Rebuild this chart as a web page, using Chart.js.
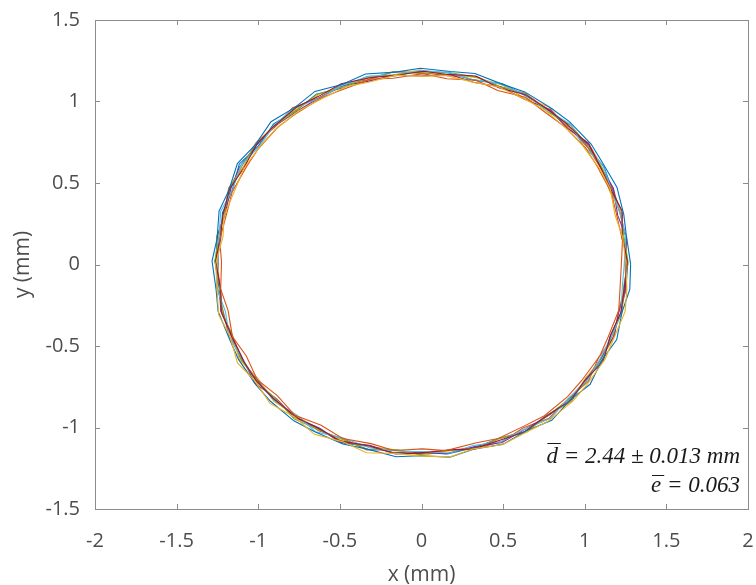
<!DOCTYPE html>
<html>
<head>
<meta charset="utf-8">
<script src="https://cdn.jsdelivr.net/npm/chart.js@4.4.0/dist/chart.umd.min.js"></script>
<style>
  html, body { margin: 0; padding: 0; background: #fff; }
  #wrap { width: 756px; height: 585px; }
</style>
</head>
<body>
<div id="wrap"><canvas id="ring" width="756" height="585"></canvas></div>
<script>
// Traced outline of the ring, one run per array pair (mm), sampled every 7.5 degrees
const xRun1 = [1.263, 1.232, 1.231, 1.163, 1.118, 1.001, 0.906, 0.761, 0.644, 0.496, 0.320, 0.167, -0.008, -0.154, -0.341, -0.478, -0.644, -0.762, -0.906, -1.000, -1.116, -1.161, -1.219, -1.230, -1.265, -1.239, -1.229, -1.159, -1.107, -0.995, -0.913, -0.773, -0.623, -0.492, -0.320, -0.178, 0.010, 0.160, 0.339, 0.475, 0.640, 0.763, 0.917, 1.005, 1.108, 1.157, 1.219, 1.253];
const yRun1 = [0.004, 0.174, 0.305, 0.475, 0.598, 0.745, 0.836, 0.959, 1.032, 1.108, 1.131, 1.175, 1.188, 1.159, 1.150, 1.084, 1.044, 0.950, 0.863, 0.726, 0.617, 0.451, 0.318, 0.155, 0.023, -0.148, -0.284, -0.453, -0.579, -0.722, -0.817, -0.938, -1.004, -1.093, -1.117, -1.153, -1.151, -1.163, -1.119, -1.066, -1.023, -0.928, -0.841, -0.699, -0.588, -0.439, -0.305, -0.135];

const xRun2 = [1.246, 1.257, 1.212, 1.178, 1.086, 1.017, 0.891, 0.790, 0.633, 0.476, 0.338, 0.159, 0.014, -0.171, -0.323, -0.496, -0.626, -0.790, -0.896, -1.014, -1.089, -1.181, -1.208, -1.250, -1.243, -1.253, -1.212, -1.182, -1.090, -1.013, -0.895, -0.788, -0.630, -0.473, -0.336, -0.150, -0.006, 0.173, 0.323, 0.497, 0.624, 0.782, 0.898, 1.023, 1.085, 1.173, 1.208, 1.254];
const yRun2 = [0.017, 0.153, 0.327, 0.455, 0.611, 0.719, 0.855, 0.941, 1.050, 1.093, 1.152, 1.158, 1.176, 1.183, 1.135, 1.101, 1.023, 0.962, 0.845, 0.747, 0.599, 0.469, 0.303, 0.175, 0.003, -0.132, -0.298, -0.432, -0.595, -0.707, -0.841, -0.917, -1.020, -1.070, -1.138, -1.138, -1.163, -1.140, -1.133, -1.084, -1.002, -0.943, -0.824, -0.715, -0.570, -0.451, -0.289, -0.156];

const xRun3 = [1.259, 1.237, 1.227, 1.153, 1.102, 1.024, 0.893, 0.781, 0.623, 0.500, 0.323, 0.172, -0.010, -0.159, -0.314, -0.490, -0.620, -0.786, -0.899, -1.019, -1.091, -1.170, -1.202, -1.256, -1.249, -1.234, -1.224, -1.165, -1.115, -1.000, -0.906, -0.766, -0.647, -0.477, -0.313, -0.169, 0.002, 0.154, 0.341, 0.477, 0.646, 0.772, 0.910, 0.998, 1.104, 1.180, 1.207, 1.242];
const yRun3 = [0.022, 0.160, 0.322, 0.448, 0.607, 0.743, 0.844, 0.966, 1.026, 1.100, 1.150, 1.159, 1.195, 1.166, 1.153, 1.090, 1.048, 0.940, 0.854, 0.740, 0.593, 0.473, 0.309, 0.173, -0.004, -0.139, -0.302, -0.428, -0.584, -0.702, -0.838, -0.929, -1.003, -1.087, -1.118, -1.136, -1.171, -1.145, -1.127, -1.068, -1.027, -0.924, -0.846, -0.707, -0.573, -0.445, -0.281, -0.150];

const xRun4 = [1.250, 1.254, 1.202, 1.175, 1.097, 1.023, 0.894, 0.790, 0.624, 0.488, 0.317, 0.177, -0.006, -0.162, -0.338, -0.475, -0.639, -0.761, -0.912, -1.005, -1.115, -1.165, -1.205, -1.251, -1.259, -1.231, -1.226, -1.162, -1.098, -1.023, -0.887, -0.783, -0.630, -0.495, -0.317, -0.167, 0.012, 0.150, 0.333, 0.494, 0.630, 0.788, 0.893, 1.014, 1.094, 1.182, 1.204, 1.252];
const yRun4 = [0.000, 0.168, 0.301, 0.469, 0.600, 0.744, 0.836, 0.949, 1.017, 1.089, 1.118, 1.165, 1.156, 1.162, 1.122, 1.099, 1.015, 0.942, 0.840, 0.739, 0.598, 0.476, 0.305, 0.175, 0.013, -0.151, -0.280, -0.446, -0.572, -0.726, -0.825, -0.935, -1.006, -1.090, -1.109, -1.157, -1.156, -1.161, -1.116, -1.092, -1.013, -0.920, -0.837, -0.703, -0.585, -0.434, -0.309, -0.132];

const xRun5 = [1.266, 1.240, 1.223, 1.155, 1.109, 1.009, 0.916, 0.765, 0.640, 0.477, 0.341, 0.152, 0.003, -0.156, -0.337, -0.470, -0.640, -0.774, -0.890, -1.020, -1.094, -1.182, -1.206, -1.247, -1.266, -1.237, -1.218, -1.156, -1.109, -1.007, -0.889, -0.781, -0.645, -0.476, -0.329, -0.153, -0.013, 0.169, 0.335, 0.472, 0.637, 0.767, 0.916, 1.007, 1.110, 1.161, 1.229, 1.239];
const yRun5 = [0.013, 0.172, 0.302, 0.467, 0.587, 0.741, 0.853, 0.942, 1.048, 1.091, 1.148, 1.181, 1.171, 1.184, 1.141, 1.092, 1.045, 0.939, 0.858, 0.732, 0.614, 0.456, 0.323, 0.149, 0.016, -0.128, -0.304, -0.438, -0.574, -0.724, -0.826, -0.946, -1.008, -1.076, -1.133, -1.137, -1.166, -1.139, -1.128, -1.069, -1.028, -0.931, -0.819, -0.721, -0.577, -0.452, -0.290, -0.129];

const xRun6 = [1.242, 1.250, 1.218, 1.159, 1.112, 0.996, 0.910, 0.771, 0.646, 0.478, 0.313, 0.173, 0.005, -0.176, -0.319, -0.486, -0.622, -0.783, -0.898, -0.996, -1.106, -1.158, -1.230, -1.241, -1.246, -1.256, -1.202, -1.174, -1.097, -1.021, -0.904, -0.763, -0.650, -0.478, -0.315, -0.172, 0.004, 0.177, 0.315, 0.486, 0.628, 0.790, 0.897, 1.020, 1.088, 1.169, 1.223, 1.230];
const yRun6 = [0.002, 0.177, 0.311, 0.471, 0.609, 0.721, 0.862, 0.947, 1.037, 1.111, 1.135, 1.176, 1.190, 1.163, 1.156, 1.099, 1.021, 0.957, 0.860, 0.721, 0.610, 0.455, 0.327, 0.159, -0.002, -0.141, -0.285, -0.455, -0.577, -0.701, -0.834, -0.924, -1.026, -1.065, -1.126, -1.143, -1.149, -1.156, -1.110, -1.087, -1.011, -0.945, -0.825, -0.703, -0.590, -0.429, -0.297, -0.138];

const xRun7 = [1.261, 1.234, 1.229, 1.166, 1.092, 1.026, 0.889, 0.784, 0.638, 0.473, 0.333, 0.149, 0.012, -0.168, -0.316, -0.492, -0.633, -0.764, -0.916, -1.006, -1.087, -1.175, -1.217, -1.232, -1.261, -1.230, -1.227, -1.164, -1.088, -1.014, -0.911, -0.760, -0.637, -0.497, -0.318, -0.159, -0.012, 0.174, 0.319, 0.498, 0.626, 0.778, 0.913, 1.006, 1.113, 1.158, 1.222, 1.241];
const yRun7 = [0.020, 0.157, 0.329, 0.450, 0.606, 0.731, 0.864, 0.943, 1.042, 1.084, 1.156, 1.167, 1.186, 1.160, 1.146, 1.109, 1.030, 0.966, 0.838, 0.742, 0.595, 0.464, 0.302, 0.169, 0.019, -0.156, -0.290, -0.434, -0.597, -0.711, -0.819, -0.941, -1.001, -1.082, -1.114, -1.162, -1.157, -1.137, -1.131, -1.072, -1.029, -0.921, -0.834, -0.704, -0.594, -0.434, -0.293, -0.153];

const xRun8 = [1.281, 1.255, 1.239, 1.197, 1.110, 1.039, 0.906, 0.795, 0.633, 0.498, 0.327, 0.178, -0.007, -0.158, -0.343, -0.487, -0.653, -0.775, -0.922, -1.017, -1.128, -1.179, -1.240, -1.252, -1.283, -1.258, -1.246, -1.177, -1.121, -1.015, -0.925, -0.782, -0.657, -0.482, -0.337, -0.156, -0.010, 0.174, 0.319, 0.501, 0.640, 0.798, 0.908, 1.033, 1.105, 1.196, 1.229, 1.276];
const yRun8 = [0.002, 0.176, 0.307, 0.474, 0.623, 0.739, 0.877, 0.959, 1.059, 1.105, 1.172, 1.184, 1.204, 1.180, 1.169, 1.104, 1.062, 0.964, 0.876, 0.736, 0.619, 0.457, 0.328, 0.160, 0.021, -0.156, -0.287, -0.456, -0.582, -0.737, -0.839, -0.959, -1.024, -1.101, -1.131, -1.179, -1.173, -1.182, -1.133, -1.102, -1.021, -0.956, -0.833, -0.735, -0.587, -0.460, -0.290, -0.153];

const xRun9 = [1.225, 1.231, 1.193, 1.162, 1.075, 1.005, 0.876, 0.769, 0.636, 0.467, 0.333, 0.155, 0.009, -0.173, -0.313, -0.486, -0.613, -0.770, -0.877, -1.000, -1.071, -1.159, -1.191, -1.236, -1.225, -1.230, -1.185, -1.158, -1.074, -1.006, -0.882, -0.775, -0.615, -0.483, -0.309, -0.170, 0.006, 0.150, 0.330, 0.470, 0.637, 0.753, 0.895, 0.983, 1.093, 1.144, 1.208, 1.216];
const yRun9 = [0.019, 0.148, 0.315, 0.444, 0.604, 0.716, 0.847, 0.925, 1.026, 1.068, 1.131, 1.140, 1.171, 1.143, 1.137, 1.072, 1.023, 0.924, 0.846, 0.710, 0.602, 0.447, 0.321, 0.151, 0.016, -0.152, -0.281, -0.443, -0.560, -0.707, -0.806, -0.925, -0.986, -1.068, -1.099, -1.141, -1.131, -1.142, -1.095, -1.067, -0.987, -0.928, -0.811, -0.710, -0.560, -0.443, -0.282, -0.151];

const xRun10 = [1.251, 1.232, 1.186, 1.156, 1.095, 0.987, 0.898, 0.757, 0.637, 0.466, 0.328, 0.149, 0.011, -0.155, -0.331, -0.464, -0.631, -0.752, -0.897, -0.983, -1.090, -1.140, -1.209, -1.216, -1.261, -1.253, -1.243, -1.174, -1.127, -1.021, -0.928, -0.778, -0.656, -0.480, -0.338, -0.157, -0.012, 0.175, 0.320, 0.498, 0.657, 0.778, 0.927, 1.015, 1.125, 1.176, 1.247, 1.258];
const yRun10 = [0.015, 0.170, 0.302, 0.465, 0.582, 0.729, 0.825, 0.947, 1.012, 1.092, 1.116, 1.160, 1.154, 1.162, 1.117, 1.091, 1.006, 0.943, 0.827, 0.733, 0.586, 0.464, 0.299, 0.172, 0.002, -0.134, -0.308, -0.439, -0.604, -0.714, -0.852, -0.936, -1.042, -1.088, -1.155, -1.159, -1.174, -1.180, -1.131, -1.104, -1.022, -0.960, -0.838, -0.736, -0.580, -0.457, -0.289, -0.158];

const runsX = [xRun1, xRun2, xRun3, xRun4, xRun5, xRun6, xRun7, xRun8, xRun9, xRun10];
const runsY = [yRun1, yRun2, yRun3, yRun4, yRun5, yRun6, yRun7, yRun8, yRun9, yRun10];

// default line colour order, cycled when there are more runs than colours
const RUN_COLORS = ['#0072BD', '#D95319', '#EDB120', '#7E2F8E', '#77AC30', '#4DBEEE', '#A2142F'];

const xTicks = [-2, -1.5, -1, -0.5, 0, 0.5, 1, 1.5, 2];
const yTicks = [-1.5, -1, -0.5, 0, 0.5, 1, 1.5];

const statLines = [
  { sym: 'd', text: ' = 2.44 \u00B1 0.013 mm' },
  { sym: 'e', text: ' = 0.063' },
];

const AXIS_GRAY  = '#8c8c8c';
const LABEL_GRAY = '#4d4d4d';
const UI_FONT    = '"Open Sans", "DejaVu Sans", sans-serif';

function _closedLoop(xs, ys) {
  const pts = xs.map((x, i) => ({ x, y: ys[i] }));
  pts.push(pts[0]);
  return pts;
}

function _fmt(v) {
  return String(Math.round(v * 10) / 10);
}

// box around the plot with short inward ticks on all four sides
const boxPlugin = {
  id: 'box',
  afterDraw(chart) {
    const { ctx, chartArea: a, scales } = chart;
    const len = 5;
    ctx.save();
    ctx.strokeStyle = AXIS_GRAY;
    ctx.lineWidth = 1;
    ctx.strokeRect(Math.round(a.left) + 0.5, Math.round(a.top) + 0.5,
                   Math.round(a.right - a.left), Math.round(a.bottom - a.top));
    ctx.beginPath();
    xTicks.forEach(v => {
      const px = Math.round(scales.x.getPixelForValue(v)) + 0.5;
      ctx.moveTo(px, a.bottom); ctx.lineTo(px, a.bottom - len);
      ctx.moveTo(px, a.top);    ctx.lineTo(px, a.top + len);
    });
    yTicks.forEach(v => {
      const py = Math.round(scales.y.getPixelForValue(v)) + 0.5;
      ctx.moveTo(a.left, py);  ctx.lineTo(a.left + len, py);
      ctx.moveTo(a.right, py); ctx.lineTo(a.right - len, py);
    });
    ctx.stroke();
    ctx.restore();
  },
};

// mean diameter / eccentricity note, bottom right inside the axes
const statsPlugin = {
  id: 'stats',
  afterDraw(chart) {
    const { ctx, chartArea: a } = chart;
    const size = 23;
    const barLift = [20, 17];
    ctx.save();
    ctx.font = `italic ${size}px "Liberation Serif", "DejaVu Serif", serif`;
    ctx.fillStyle = '#1a1a1a';
    ctx.strokeStyle = '#1a1a1a';
    ctx.lineWidth = 1;
    ctx.textBaseline = 'alphabetic';
    ctx.textAlign = 'left';
    const right = a.right - 8;
    statLines.forEach((ln, i) => {
      const base = a.bottom - 46 + i * 29;
      const wRest = ctx.measureText(ln.text).width;
      const wSym  = ctx.measureText(ln.sym).width;
      const x0 = right - wRest - wSym;
      ctx.fillText(ln.sym, x0, base);
      ctx.fillText(ln.text, x0 + wSym, base);
      const yb = Math.round(base - barLift[i]) + 0.5;
      ctx.beginPath();
      ctx.moveTo(x0 + 1, yb);
      ctx.lineTo(x0 + wSym + 3, yb);
      ctx.stroke();
    });
    ctx.restore();
  },
};

// later runs are painted over earlier ones
const datasets = runsX.map((xs, i) => ({
  label: `run ${i + 1}`,
  data: _closedLoop(xs, runsY[i]),
  order: runsX.length - i,
  showLine: true,
  borderColor: RUN_COLORS[i % RUN_COLORS.length],
  borderWidth: 1.1,
  pointRadius: 0,
  tension: 0,
  fill: false,
}));

new Chart(document.getElementById('ring'), {
  type: 'scatter',
  data: { datasets },
  options: {
    responsive: false,
    animation: false,
    layout: { padding: { top: 20, right: 8, left: 0, bottom: 0 } },
    plugins: {
      legend: { display: false },
      tooltip: { enabled: false },
    },
    scales: {
      x: {
        type: 'linear',
        min: -2, max: 2,
        afterBuildTicks: s => { s.ticks = xTicks.map(v => ({ value: v })); },
        afterFit: s => { s.height = 76; s.paddingLeft = 0; s.paddingRight = 0; },
        grid: { display: false, drawTicks: false },
        border: { display: false },
        ticks: {
          padding: 20,
          color: LABEL_GRAY,
          font: { family: UI_FONT, size: 20 },
          callback: v => _fmt(v),
        },
        title: {
          display: true,
          text: 'x (mm)',
          color: LABEL_GRAY,
          font: { family: UI_FONT, size: 21 },
          padding: { top: 0, bottom: -3 },
        },
      },
      y: {
        type: 'linear',
        min: -1.5, max: 1.5,
        afterBuildTicks: s => { s.ticks = yTicks.map(v => ({ value: v })); },
        afterFit: s => { s.width = 95; s.paddingTop = 0; s.paddingBottom = 0; },
        grid: { display: false, drawTicks: false },
        border: { display: false },
        ticks: {
          padding: 15,
          color: LABEL_GRAY,
          font: { family: UI_FONT, size: 20 },
          callback: v => _fmt(v),
        },
        title: {
          display: true,
          text: 'y (mm)',
          color: LABEL_GRAY,
          font: { family: UI_FONT, size: 21 },
          padding: { top: 10, bottom: 0 },
        },
      },
    },
  },
  plugins: [boxPlugin, statsPlugin],
});
</script>
</body>
</html>
